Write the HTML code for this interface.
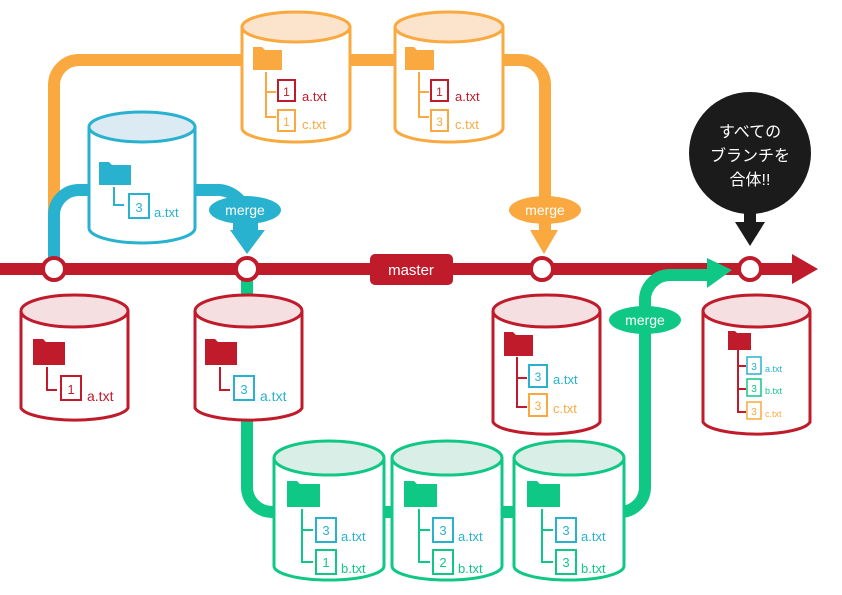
<!DOCTYPE html>
<html><head><meta charset="utf-8"><style>
html,body{margin:0;padding:0;background:#fff;width:842px;height:595px;overflow:hidden}
svg{display:block}
text{font-family:"Liberation Sans","Noto Sans CJK JP",sans-serif}
</style></head><body>
<svg width="842" height="595" viewBox="0 0 842 595" xmlns="http://www.w3.org/2000/svg">
<!-- orange branch -->
<path d="M54 269 V85 A25 25 0 0 1 79 60 H520 A25 25 0 0 1 545 85 V232" fill="none" stroke="#f9a93f" stroke-width="12"/>
<!-- blue branch -->
<path d="M54 269 V215 A25 25 0 0 1 79 190 H215 A30 30 0 0 1 247 222 V232" fill="none" stroke="#28b2cf" stroke-width="12"/>
<!-- green branch -->
<path d="M247 269 V487 A25 25 0 0 0 272 512 H620 A25 25 0 0 0 645 487 V302" fill="none" stroke="#10c886" stroke-width="12"/>
<!-- master -->
<rect x="0" y="263" width="795" height="12" fill="#c01b2b"/>
<polygon points="792,254 818,269 792,284" fill="#c01b2b"/>
<path d="M645 305 V300 A25 25 0 0 1 670 275 H712" fill="none" stroke="#10c886" stroke-width="12"/>
<polygon points="707,258 732,270 707,288" fill="#10c886"/>
<rect x="370" y="254" width="83" height="31" rx="5" fill="#c01b2b"/>
<text x="411" y="275" font-size="15" fill="#fff" text-anchor="middle">master</text>
<!-- merge labels -->
<ellipse cx="245" cy="210" rx="36" ry="14" fill="#28b2cf"/>
<text x="245" y="215" font-size="14" fill="#fff" text-anchor="middle">merge</text>
<polygon points="233,222 258,222 258,230 265,230 247,254 230,230 233,230" fill="#28b2cf"/>
<ellipse cx="545" cy="210" rx="36" ry="14" fill="#f9a93f"/>
<text x="545" y="215" font-size="14" fill="#fff" text-anchor="middle">merge</text>
<polygon points="530,230 558,230 544,254" fill="#f9a93f"/>
<ellipse cx="645" cy="320" rx="36" ry="14" fill="#10c886"/>
<text x="645" y="325" font-size="14" fill="#fff" text-anchor="middle">merge</text>
<!-- black bubble -->
<circle cx="750" cy="153" r="61" fill="#1b1b1b"/>
<rect x="744" y="210" width="12" height="14" fill="#1b1b1b"/>
<polygon points="735,222 765,222 750,246" fill="#1b1b1b"/>
<text x="750" y="137" font-size="16" fill="#fff" text-anchor="middle">すべての</text>
<text x="750" y="161" font-size="16" fill="#fff" text-anchor="middle">ブランチを</text>
<text x="750" y="185" font-size="16" fill="#fff" text-anchor="middle">合体!!</text>
<!-- commit circles -->
<g fill="#fff" stroke="#c01b2b" stroke-width="4">
<circle cx="54" cy="269" r="11"/><circle cx="247" cy="269" r="11"/><circle cx="542" cy="269" r="11"/><circle cx="750" cy="269" r="11"/>
</g>

<!-- blue -->
<g stroke="#28b2cf" stroke-width="3">
<path d="M89 127 V228 A53 15 0 0 0 195 228 V127" fill="#fff"/>
<ellipse cx="142" cy="127" rx="53" ry="15" fill="#dcebf3"/>
</g>
<g>
<path d="M99 162 h10 l3 3 h19 v20 h-32z" fill="#28b2cf"/>
<path d="M114 187 V205 H124" fill="none" stroke="#28b2cf" stroke-width="2"/>
<rect x="129" y="194" width="20" height="24" fill="#fff" stroke="#28b2cf" stroke-width="2"/>
<text x="139" y="212" font-size="13" fill="#28b2cf" text-anchor="middle">3</text>
<text x="154" y="217" font-size="13" fill="#28b2cf">a.txt</text>
</g>

<!-- orange cylinders -->
<g stroke="#f9a93f" stroke-width="3">
<path d="M242 27 V128 A54 14 0 0 0 350 128 V27" fill="#fff"/>
<ellipse cx="296" cy="27" rx="54" ry="15" fill="#fbe3cc"/>
<path d="M395 27 V128 A54 14 0 0 0 503 128 V27" fill="#fff"/>
<ellipse cx="449" cy="27" rx="54" ry="15" fill="#fbe3cc"/>
</g>
<g>
<path d="M253 47 h9 l3 3 h17 v20 h-29z" fill="#f9a93f"/>
<path d="M266 72 V117 H276 M266 92 H276" fill="none" stroke="#f9a93f" stroke-width="2"/>
<rect x="278" y="80" width="17" height="21" fill="#fff" stroke="#c01b2b" stroke-width="2"/>
<text x="286.5" y="96" font-size="12" fill="#c01b2b" text-anchor="middle">1</text>
<text x="302" y="101" font-size="13" fill="#c01b2b">a.txt</text>
<rect x="278" y="110" width="17" height="21" fill="#fff" stroke="#f9a93f" stroke-width="2"/>
<text x="286.5" y="126" font-size="12" fill="#f9a93f" text-anchor="middle">1</text>
<text x="302" y="129" font-size="13" fill="#f9a93f">c.txt</text>

<path d="M405 47 h9 l3 3 h17 v20 h-29z" fill="#f9a93f"/>
<path d="M419 72 V117 H429 M419 92 H429" fill="none" stroke="#f9a93f" stroke-width="2"/>
<rect x="431" y="80" width="17" height="21" fill="#fff" stroke="#c01b2b" stroke-width="2"/>
<text x="439.5" y="96" font-size="12" fill="#c01b2b" text-anchor="middle">1</text>
<text x="455" y="101" font-size="13" fill="#c01b2b">a.txt</text>
<rect x="431" y="110" width="17" height="21" fill="#fff" stroke="#f9a93f" stroke-width="2"/>
<text x="439.5" y="126" font-size="12" fill="#f9a93f" text-anchor="middle">3</text>
<text x="455" y="129" font-size="13" fill="#f9a93f">c.txt</text>
</g>

<!-- red cylinders -->
<g stroke="#c01b2b" stroke-width="3">
<path d="M21 311 V408 A54 14 0 0 0 128 408 V311" fill="#fff"/>
<ellipse cx="74.5" cy="311" rx="53.5" ry="16" fill="#f5dfe1"/>
<path d="M195 311 V408 A54 14 0 0 0 302 408 V311" fill="#fff"/>
<ellipse cx="248.5" cy="311" rx="53.5" ry="16" fill="#f5dfe1"/>
<path d="M493 311 V422 A54 14 0 0 0 600 422 V311" fill="#fff"/>
<ellipse cx="546.5" cy="311" rx="53.5" ry="16" fill="#f5dfe1"/>
<path d="M703 311 V422 A54 14 0 0 0 810 422 V311" fill="#fff"/>
<ellipse cx="756.5" cy="311" rx="53.5" ry="16" fill="#f5dfe1"/>
</g>
<g>
<path d="M33 339 h10 l3 3 h19 v23 h-32z" fill="#c01b2b"/>
<path d="M47 367 V390 H57" fill="none" stroke="#c01b2b" stroke-width="2"/>
<rect x="61" y="376" width="20" height="24" fill="#fff" stroke="#c01b2b" stroke-width="2"/>
<text x="71" y="394" font-size="13" fill="#c01b2b" text-anchor="middle">1</text>
<text x="87" y="401" font-size="14" fill="#c01b2b">a.txt</text>

<path d="M205 339 h10 l3 3 h19 v23 h-32z" fill="#c01b2b"/>
<path d="M220 367 V390 H230" fill="none" stroke="#c01b2b" stroke-width="2"/>
<rect x="234" y="376" width="20" height="24" fill="#fff" stroke="#28b2cf" stroke-width="2"/>
<text x="244" y="394" font-size="13" fill="#28b2cf" text-anchor="middle">3</text>
<text x="260" y="401" font-size="14" fill="#28b2cf">a.txt</text>

<path d="M504 332 h9 l3 3 h17 v21 h-29z" fill="#c01b2b"/>
<path d="M517 357 V407 H527 M517 378 H527" fill="none" stroke="#c01b2b" stroke-width="2"/>
<rect x="529" y="365" width="18" height="22" fill="#fff" stroke="#28b2cf" stroke-width="2"/>
<text x="538" y="381" font-size="12" fill="#28b2cf" text-anchor="middle">3</text>
<text x="553" y="384" font-size="13" fill="#28b2cf">a.txt</text>
<rect x="529" y="394" width="18" height="22" fill="#fff" stroke="#f9a93f" stroke-width="2"/>
<text x="538" y="410" font-size="12" fill="#f9a93f" text-anchor="middle">3</text>
<text x="553" y="413" font-size="13" fill="#f9a93f">c.txt</text>

<path d="M728 331 h7 l2 2 h14 v17 h-23z" fill="#c01b2b"/>
<path d="M738 350 V412 H746 M738 366 H746 M738 389 H746" fill="none" stroke="#c01b2b" stroke-width="2"/>
<rect x="747" y="357" width="14" height="17" fill="#fff" stroke="#28b2cf" stroke-width="1.5"/>
<text x="754" y="370" font-size="10" fill="#28b2cf" text-anchor="middle">3</text>
<text x="765" y="372" font-size="9" fill="#28b2cf">a.txt</text>
<rect x="747" y="379" width="14" height="17" fill="#fff" stroke="#10c886" stroke-width="1.5"/>
<text x="754" y="392" font-size="10" fill="#10c886" text-anchor="middle">3</text>
<text x="765" y="394" font-size="9" fill="#10c886">b.txt</text>
<rect x="747" y="402" width="14" height="17" fill="#fff" stroke="#f9a93f" stroke-width="1.5"/>
<text x="754" y="415" font-size="10" fill="#f9a93f" text-anchor="middle">3</text>
<text x="765" y="417" font-size="9" fill="#f9a93f">c.txt</text>
</g>

<!-- green cylinders -->
<g stroke="#10c886" stroke-width="3">
<path d="M274 458 V566 A55 14 0 0 0 384 566 V458" fill="#fff"/>
<ellipse cx="329" cy="458" rx="55" ry="17" fill="#d8eee6"/>
<path d="M392 458 V566 A55 14 0 0 0 502 566 V458" fill="#fff"/>
<ellipse cx="447" cy="458" rx="55" ry="17" fill="#d8eee6"/>
<path d="M514 458 V566 A55 14 0 0 0 624 566 V458" fill="#fff"/>
<ellipse cx="569" cy="458" rx="55" ry="17" fill="#d8eee6"/>
</g>
<g>
<path d="M287 481 h10 l3 3 h20 v23 h-33z" fill="#10c886"/>
<path d="M302 509 V562 H313 M302 530 H313" fill="none" stroke="#10c886" stroke-width="2"/>
<rect x="316" y="518" width="20" height="24" fill="#fff" stroke="#28b2cf" stroke-width="2"/>
<text x="326" y="535" font-size="13" fill="#28b2cf" text-anchor="middle">3</text>
<text x="341" y="541" font-size="13" fill="#28b2cf">a.txt</text>
<rect x="316" y="550" width="20" height="24" fill="#fff" stroke="#10c886" stroke-width="2"/>
<text x="326" y="567" font-size="13" fill="#10c886" text-anchor="middle">1</text>
<text x="341" y="573" font-size="13" fill="#10c886">b.txt</text>

<path d="M404 481 h10 l3 3 h20 v23 h-33z" fill="#10c886"/>
<path d="M419 509 V562 H430 M419 530 H430" fill="none" stroke="#10c886" stroke-width="2"/>
<rect x="433" y="518" width="20" height="24" fill="#fff" stroke="#28b2cf" stroke-width="2"/>
<text x="443" y="535" font-size="13" fill="#28b2cf" text-anchor="middle">3</text>
<text x="458" y="541" font-size="13" fill="#28b2cf">a.txt</text>
<rect x="433" y="550" width="20" height="24" fill="#fff" stroke="#10c886" stroke-width="2"/>
<text x="443" y="567" font-size="13" fill="#10c886" text-anchor="middle">2</text>
<text x="458" y="573" font-size="13" fill="#10c886">b.txt</text>

<path d="M527 481 h10 l3 3 h20 v23 h-33z" fill="#10c886"/>
<path d="M542 509 V562 H553 M542 530 H553" fill="none" stroke="#10c886" stroke-width="2"/>
<rect x="556" y="518" width="20" height="24" fill="#fff" stroke="#28b2cf" stroke-width="2"/>
<text x="566" y="535" font-size="13" fill="#28b2cf" text-anchor="middle">3</text>
<text x="581" y="541" font-size="13" fill="#28b2cf">a.txt</text>
<rect x="556" y="550" width="20" height="24" fill="#fff" stroke="#10c886" stroke-width="2"/>
<text x="566" y="567" font-size="13" fill="#10c886" text-anchor="middle">3</text>
<text x="581" y="573" font-size="13" fill="#10c886">b.txt</text>
</g>
</svg>
</body></html>
